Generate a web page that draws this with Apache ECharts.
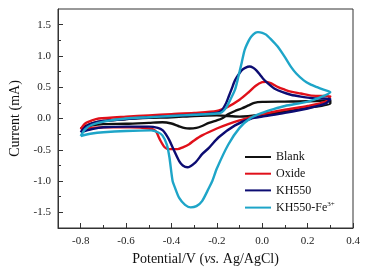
<!DOCTYPE html>
<html>
<head>
<meta charset="utf-8">
<script src="https://cdn.jsdelivr.net/npm/echarts@6/dist/echarts.min.js"></script>
<style>
  html, body { margin: 0; padding: 0; background: #fff; }
  #chart { width: 371px; height: 277px; }
</style>
</head>
<body>
<div id="chart"></div>
<script>
// tick labels
const xTicks = [-0.8, -0.6, -0.4, -0.2, 0, 0.2, 0.4]
const xMinorTicks = [-0.7, -0.5, -0.3, -0.1, 0.1, 0.3]
const yTicks = [-1.5, -1, -0.5, 0, 0.5, 1, 1.5]
const yMinorTicks = [-1.25, -0.75, -0.25, 0.25, 0.75, 1.25]

const seriesNames = ['Blank', 'Oxide', 'KH550', 'KH550-Fe3+']

// Blank: potential (V) / current (mA), one closed scan
const blankV = [-0.8, -0.75, -0.7, -0.6, -0.5, -0.44, -0.4, -0.37, -0.34, -0.32, -0.29, -0.265, -0.235, -0.2, -0.178, -0.149, -0.12, -0.091, -0.06, -0.035, 0, 0.1, 0.2, 0.3,
  0.3, 0.2, 0.1, 0, -0.1, -0.2, -0.3, -0.4, -0.5, -0.6, -0.7, -0.75, -0.8]
const blankI = [-0.16, -0.11, -0.09, -0.085, -0.07, -0.06, -0.08, -0.12, -0.155, -0.16, -0.15, -0.12, -0.07, -0.03, 0, 0.07, 0.12, 0.16, 0.21, 0.25, 0.265, 0.27, 0.275, 0.29,
  0.24, 0.17, 0.11, 0.06, 0.03, 0.05, 0.04, 0.02, 0.01, -0.01, -0.04, -0.08, -0.16]

// Oxide
const oxideV = [-0.8, -0.78, -0.75, -0.72, -0.6, -0.5, -0.4, -0.3, -0.2, -0.15, -0.1, -0.06, -0.03, 0, 0.02, 0.04, 0.07, 0.1, 0.126, 0.17, 0.21, 0.25, 0.3,
  0.28, 0.2, 0.1, 0, -0.05, -0.1, -0.15, -0.2, -0.265, -0.3, -0.322, -0.35, -0.373, -0.409, -0.43, -0.452, -0.47, -0.5, -0.58, -0.7, -0.8]
const oxideI = [-0.17, -0.08, -0.03, 0, 0.03, 0.05, 0.07, 0.09, 0.12, 0.19, 0.3, 0.42, 0.52, 0.58, 0.585, 0.56, 0.5, 0.46, 0.43, 0.4, 0.37, 0.36, 0.355,
  0.27, 0.2, 0.14, 0.07, 0.02, -0.03, -0.09, -0.16, -0.27, -0.35, -0.41, -0.46, -0.49, -0.49, -0.46, -0.33, -0.2, -0.16, -0.14, -0.14, -0.17]

// KH550
const kh550V = [-0.8, -0.78, -0.75, -0.7, -0.6, -0.5, -0.4, -0.3, -0.2, -0.178, -0.16, -0.149, -0.135, -0.12, -0.105, -0.091, -0.075, -0.055, -0.04, -0.026, -0.01, 0.003, 0.025, 0.053, 0.09, 0.126, 0.17, 0.21, 0.25, 0.3,
  0.28, 0.2, 0.1, 0, -0.048, -0.12, -0.192, -0.235, -0.265, -0.294, -0.33, -0.35, -0.366, -0.39, -0.409, -0.425, -0.438, -0.46, -0.5, -0.6, -0.7, -0.75, -0.8]
const kh550I = [-0.22, -0.14, -0.08, -0.04, -0.01, 0.02, 0.04, 0.06, 0.09, 0.13, 0.24, 0.34, 0.47, 0.61, 0.7, 0.77, 0.81, 0.83, 0.81, 0.77, 0.7, 0.64, 0.56, 0.48, 0.42, 0.38, 0.35, 0.33, 0.32, 0.31,
  0.24, 0.16, 0.09, 0.03, 0, -0.11, -0.3, -0.47, -0.57, -0.7, -0.78, -0.75, -0.68, -0.5, -0.35, -0.25, -0.19, -0.15, -0.13, -0.13, -0.14, -0.17, -0.22]

// KH550-Fe3+
const kh550FeV = [-0.8, -0.78, -0.75, -0.7, -0.6, -0.5, -0.4, -0.3, -0.2, -0.178, -0.16, -0.142, -0.12, -0.105, -0.09, -0.077, -0.06, -0.048, -0.03, -0.019, 0, 0.017, 0.04, 0.068, 0.1, 0.126, 0.15, 0.183, 0.21, 0.242, 0.27, 0.3,
  0.25, 0.2, 0.1, 0.05, 0, -0.05, -0.1, -0.15, -0.2, -0.22, -0.235, -0.265, -0.29, -0.315, -0.34, -0.366, -0.385, -0.395, -0.409, -0.42, -0.44, -0.46, -0.49, -0.6, -0.7, -0.75, -0.8]
const kh550FeI = [-0.28, -0.17, -0.1, -0.05, 0, 0.02, 0.04, 0.06, 0.08, 0.1, 0.17, 0.29, 0.46, 0.67, 0.9, 1.1, 1.24, 1.31, 1.37, 1.38, 1.37, 1.34, 1.26, 1.15, 0.98, 0.83, 0.72, 0.61, 0.55, 0.5, 0.46, 0.42,
  0.33, 0.27, 0.2, 0.15, 0.09, 0.01, -0.15, -0.42, -0.8, -1.0, -1.11, -1.32, -1.4, -1.42, -1.38, -1.27, -1.1, -1.0, -0.62, -0.42, -0.27, -0.22, -0.19, -0.2, -0.22, -0.24, -0.28]

const colors = ['#111111', '#e0101a', '#0c0c72', '#1ea5c8']
const font = 'Liberation Serif'

const zip = (v, i) => v.map((x, k) => [x, i[k]])
const curves = [zip(blankV, blankI), zip(oxideV, oxideI), zip(kh550V, kh550I), zip(kh550FeV, kh550FeI)]

const chart = echarts.init(document.getElementById('chart'))

const baseAxis = {
  type: 'value',
  splitLine: {show: false},
  axisLine: {show: true, onZero: false, lineStyle: {color: '#333', width: 1}},
}

chart.setOption({
  animation: false,
  color: colors,
  grid: {left: 54, right: 18, top: 9, bottom: 49, show: true, borderColor: '#333', borderWidth: 1},
  legend: {
    orient: 'vertical',
    left: 245,
    top: 151,
    padding: 0,
    itemWidth: 26,
    itemHeight: 2,
    itemGap: 4.7,
    icon: 'rect',
    data: seriesNames,
    formatter: name => name === 'KH550-Fe3+' ? 'KH550-Fe{sup|3+}' : name,
    textStyle: {
      fontFamily: font, fontSize: 12, color: '#111',
      rich: {sup: {fontFamily: font, fontSize: 7, padding: [0, 0, 6, 0], color: '#111'}}
    }
  },
  xAxis: [
    {
      ...baseAxis,
      min: -0.9, max: 0.4,
      name: 'Potential/V ({i|vs.} Ag/AgCl)',
      nameLocation: 'middle',
      nameGap: 19,
      nameTextStyle: {fontFamily: font, fontSize: 14, color: '#111', rich: {i: {fontFamily: font, fontSize: 14, fontStyle: 'italic', color: '#111'}}},
      axisTick: {inside: true, length: 5, customValues: xTicks, lineStyle: {color: '#333'}},
      axisLabel: {customValues: xTicks, fontFamily: font, fontSize: 11, color: '#222', margin: 8, formatter: v => v.toFixed(1)}
    },
    {
      ...baseAxis,
      min: -0.9, max: 0.4,
      position: 'bottom',
      axisLine: {show: false, onZero: false},
      axisTick: {inside: true, length: 3, customValues: xMinorTicks, lineStyle: {color: '#333'}},
      axisLabel: {show: false}
    }
  ],
  yAxis: [
    {
      ...baseAxis,
      min: -1.75, max: 1.75,
      name: 'Current (mA)',
      nameLocation: 'middle',
      nameGap: 36,
      nameTextStyle: {fontFamily: font, fontSize: 14, color: '#111'},
      axisTick: {inside: true, length: 5, customValues: yTicks, lineStyle: {color: '#333'}},
      axisLabel: {customValues: yTicks, fontFamily: font, fontSize: 11, color: '#222', margin: 7, formatter: v => v.toFixed(1)}
    },
    {
      ...baseAxis,
      min: -1.75, max: 1.75,
      position: 'left',
      axisLine: {show: false, onZero: false},
      axisTick: {inside: true, length: 3, customValues: yMinorTicks, lineStyle: {color: '#333'}},
      axisLabel: {show: false}
    }
  ],
  series: seriesNames.map((name, k) => ({
    name,
    type: 'line',
    data: curves[k],
    showSymbol: false,
    symbol: 'none',
    smooth: 0.25,
    lineStyle: {width: 2.4, color: colors[k]},
    itemStyle: {color: colors[k]}
  }))
})

window.addEventListener('resize', () => chart.resize())
</script>
</body>
</html>
